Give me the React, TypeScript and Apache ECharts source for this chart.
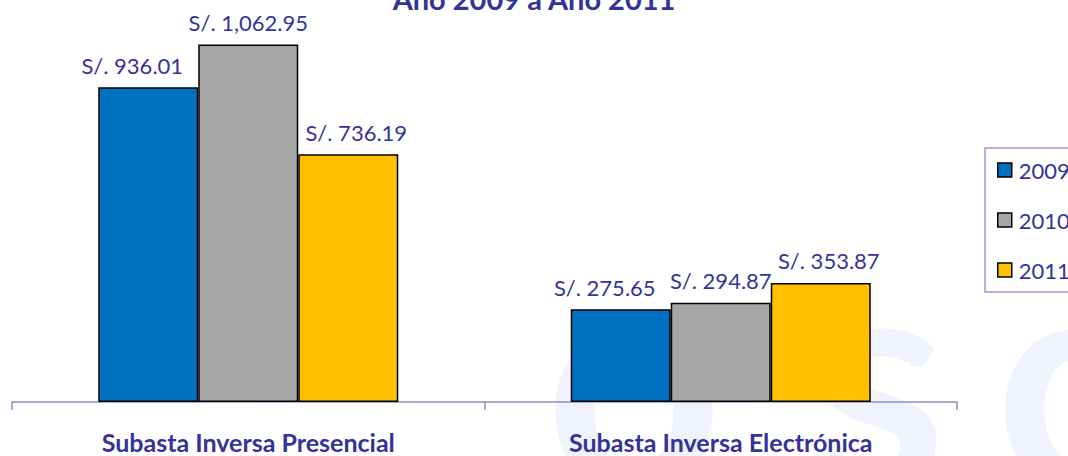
import React, { useEffect, useRef } from "react";
import * as echarts from "echarts";

const categories = ["Subasta Inversa Presencial", "Subasta Inversa Electrónica"];
const seriesNames = ["2009", "2010", "2011"];
const values2009 = [936.01, 275.65];
const values2010 = [1062.95, 294.87];
const values2011 = [736.19, 353.87];
const colors = ["#0070C0", "#A6A6A6", "#FFC000"];
const titleText = "Año 2009 a Año 2011";
const watermarkLetters = ["o", "s", "c"];

const fmt = (v: number) =>
  "S/. " + v.toLocaleString("en-US", { minimumFractionDigits: 2, maximumFractionDigits: 2 });

export default function App() {
  const ref = useRef<HTMLDivElement>(null);
  useEffect(() => {
    if (!ref.current) return;
    const chart = echarts.init(ref.current, null, { renderer: "svg" });
    const textColor = "#33339A";
    const font = "Lato, 'Open Sans', sans-serif";
    const allValues = [values2009, values2010, values2011];
    const offsets = [[-16, 0], [0, 0], [8, 0]];
    const wmLeft = [545, 810, 995];
    chart.setOption({
      animation: false,
      backgroundColor: "#ffffff",
      title: {
        text: titleText,
        left: "center",
        top: -21,
        textStyle: { color: textColor, fontSize: 29, fontWeight: "bold", fontFamily: font },
      },
      graphic: watermarkLetters.map((ch, i) => ({
        type: "text",
        left: wmLeft[i],
        top: 215,
        z: -10,
        silent: true,
        style: {
          text: ch,
          fontSize: 310,
          fontWeight: "bold",
          fontFamily: font,
          fill: "rgba(185,198,240,0.22)",
        },
      })),
      legend: {
        orient: "vertical",
        left: 985,
        top: 148,
        padding: [11, 30, 11, 12],
        itemGap: 28,
        itemWidth: 14,
        itemHeight: 14,
        borderColor: "#9A9ADA",
        borderWidth: 1.5,
        borderRadius: 0,
        data: seriesNames.map((n) => ({ name: n, icon: "rect" })),
        itemStyle: { borderColor: "#000000", borderWidth: 1.5 },
        textStyle: { color: textColor, fontSize: 22, fontFamily: font, padding: [0, 0, 0, 2] },
      },
      grid: { left: 12, right: 111, top: 32, bottom: 54, containLabel: false },
      xAxis: {
        type: "category",
        data: categories,
        axisLine: { lineStyle: { color: "#8E8EC0", width: 1.5 } },
        axisTick: { show: true, length: 8, lineStyle: { color: "#8E8EC0", width: 1.5 } },
        axisLabel: {
          margin: 27,
          color: textColor,
          fontSize: 25,
          fontWeight: "bold",
          fontFamily: font,
        },
      },
      yAxis: {
        type: "value",
        min: 0,
        max: 1100,
        show: false,
        splitLine: { show: false },
      },
      series: seriesNames.map((n, i) => ({
        name: n,
        type: "bar",
        data: allValues[i],
        barGap: "0%",
        barCategoryGap: "36.5%",
        itemStyle: { color: colors[i], borderColor: "#000000", borderWidth: 1.5 },
        label: {
          show: true,
          position: "top",
          distance: 11,
          offset: offsets[i],
          color: textColor,
          fontSize: 22,
          fontFamily: font,
          formatter: (p: any) => fmt(p.value),
        },
      })),
    });
    return () => chart.dispose();
  }, []);
  return (
    <div
      ref={ref}
      style={{ position: "absolute", left: 0, top: 0, width: 1068, height: 456 }}
    />
  );
}
